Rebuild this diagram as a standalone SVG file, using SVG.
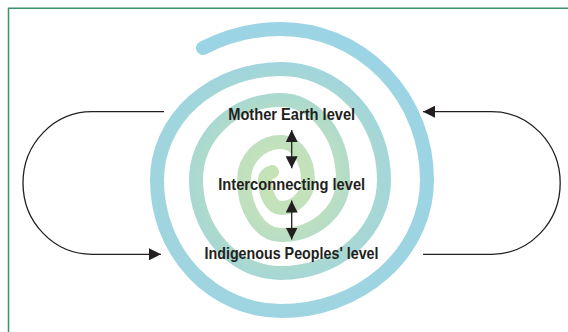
<svg xmlns="http://www.w3.org/2000/svg" width="568" height="332" viewBox="0 0 568 332">
  <defs>
    <radialGradient id="spiralGrad" gradientUnits="userSpaceOnUse" cx="281" cy="180" r="155">
      <stop offset="0" stop-color="#c9e4b4"/>
      <stop offset="0.3" stop-color="#bfe0bf"/>
      <stop offset="0.55" stop-color="#abd9cf"/>
      <stop offset="0.78" stop-color="#a0d5de"/>
      <stop offset="1" stop-color="#9bd4e5"/>
    </radialGradient>
    <marker id="arrow" viewBox="0 0 12 12" refX="12" refY="6" markerWidth="12" markerHeight="12" markerUnits="userSpaceOnUse" orient="auto-start-reverse">
      <path d="M0,0 L12,6 L0,12 z" fill="#231f20"/>
    </marker>
  </defs>
  <style>
    .frame { fill: none; stroke: #3a946a; stroke-width: 1.5; }
    .spiral { fill: none; stroke: url(#spiralGrad); stroke-width: 14; stroke-linecap: round; stroke-linejoin: round; }
    .conn { fill: none; stroke: #231f20; stroke-width: 1.3; }
    .label { font-family: "Liberation Sans", Arial, sans-serif; font-weight: bold; font-size: 16.5px; fill: #231f20; text-anchor: middle; }
  </style>
  <rect width="568" height="332" fill="#ffffff"/>
  <path class="frame" d="M8.5,332 V8.2 H568"/>

  <g id="spiral">
    <path class="spiral" d="M203,48 A160,151 0 0 1 281,29
      A146,151 0 0 1 427,180
      A146,131 0 0 1 281,311
      A124,131 0 0 1 157,180
      A124,111 0 0 1 281,69
      A103,111 0 0 1 384,180
      A103,93 0 0 1 281,273
      A85,93 0 0 1 196,180
      A85,80 0 0 1 281,100
      A62,80 0 0 1 343,180
      A62,55 0 0 1 281,235
      A37,55 0 0 1 244,180
      A37,38 0 0 1 281,142
      A27,38 0 0 1 308,180
      A27,28 0 0 1 281,208
      A16,28 0 0 1 265,180
      A10,8 0 0 1 272,172"/>
  </g>

  <g id="mother-earth-level">
    <text class="label" x="291.7" y="120" textLength="127" lengthAdjust="spacingAndGlyphs">Mother Earth level</text>
  </g>
  <g id="interconnecting-level">
    <text class="label" x="291.7" y="189.5" textLength="147" lengthAdjust="spacingAndGlyphs">Interconnecting level</text>
  </g>
  <g id="indigenous-peoples-level">
    <text class="label" x="291.5" y="259.3" textLength="174" lengthAdjust="spacingAndGlyphs">Indigenous Peoples' level</text>
  </g>

  <g id="connectors">
    <path class="conn" d="M164,111.7 H92 A69,71.3 0 0 0 92,254.3 H161" marker-end="url(#arrow)"/>
    <path class="conn" d="M423,254.3 H491.7 A68.5,71.3 0 0 0 491.7,111.7 H423" marker-end="url(#arrow)"/>
    <path class="conn" d="M291.7,130 V168.3" marker-start="url(#arrow)" marker-end="url(#arrow)"/>
    <path class="conn" d="M291.7,200.5 V239.5" marker-start="url(#arrow)" marker-end="url(#arrow)"/>
  </g>
</svg>
